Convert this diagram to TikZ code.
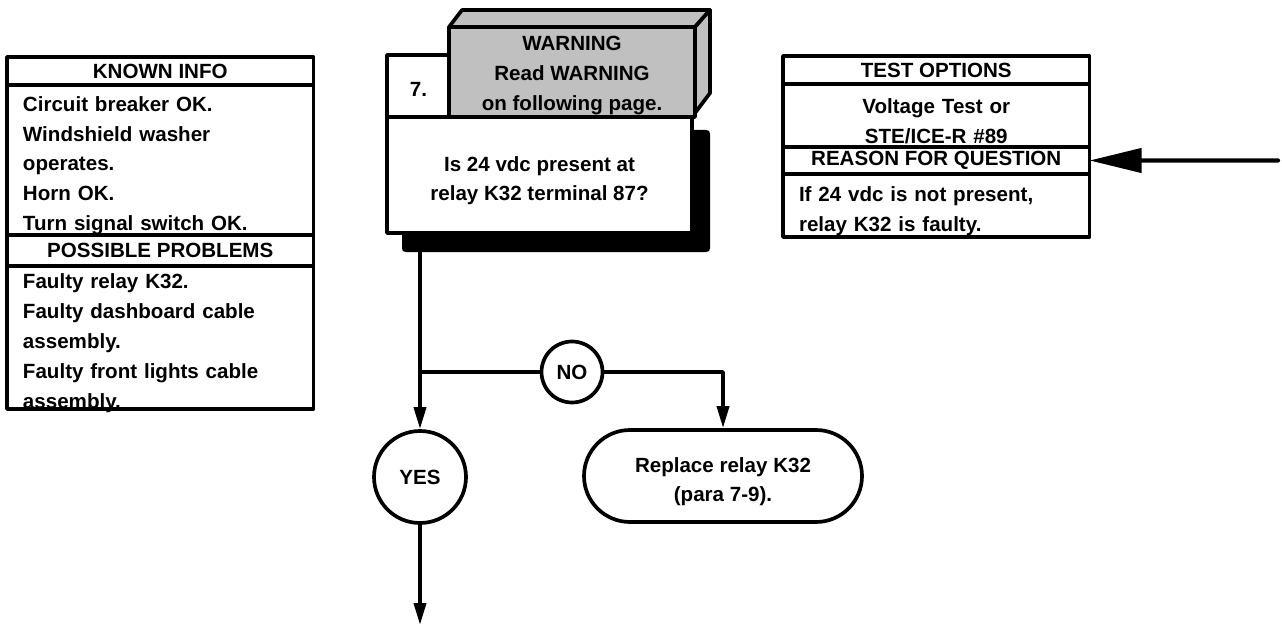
\documentclass[tikz,border=0pt]{standalone}
\usepackage{fontspec}
\setmainfont{Liberation Sans}
\usetikzlibrary{arrows.meta,positioning,shapes.misc}
\definecolor{WarnGray}{HTML}{C0C0C0}
\newcommand{\padtop}{\rule{0pt}{15pt}}
\newcommand{\padend}{\par\kern-6.5pt}

\tikzset{
  chart/.style={line width=2.1pt,draw=black},
  hdrbox/.style={chart,rectangle,outer sep=0pt,inner sep=0pt,minimum width=6.13cm,minimum height=#1,align=center},
  listbox/.style={chart,rectangle,outer sep=0pt,inner xsep=0.32cm,inner ysep=0pt,text width=5.49cm,minimum height=#1,align=left},
  midbox/.style={chart,rectangle,outer sep=0pt,inner sep=0pt,text width=6.13cm,minimum height=#1,align=center},
  ring/.style={chart,circle,fill=white,inner sep=0pt,minimum size=#1},
  flow/.style={line width=2.1pt,-{Triangle[length=4.4mm,width=2.4mm]}}
}

\begin{document}
\begin{tikzpicture}[line cap=round,line join=round,font=\bfseries\fontsize{11.7}{17}\selectfont]
  \useasboundingbox (0,0) rectangle (25.64,12.52);
  % left column
  \node[hdrbox=0.56cm,anchor=north west] (known) at (0.14,11.38) {KNOWN INFO};
  \node[listbox=3.0cm,below=0pt of known] (knownlist) {Circuit breaker OK.\\Windshield washer\\operates.\\Horn OK.\\Turn signal switch OK.\padend};
  \node[hdrbox=0.62cm,below=0pt of knownlist] (probs) {POSSIBLE PROBLEMS};
  \node[listbox=2.86cm,below=0pt of probs] (probslist) {Faulty relay K32.\\Faulty dashboard cable\\assembly.\\Faulty front lights cable\\assembly.\padend};
  % right column
  \node[hdrbox=0.56cm,anchor=north west] (tests) at (15.66,11.40) {TEST OPTIONS};
  \node[midbox=1.26cm,below=0pt of tests] (testlist) {Voltage Test or\\STE/ICE-R \#89\padend};
  \node[hdrbox=0.54cm,below=0pt of testlist] (reason) {REASON FOR QUESTION};
  \node[listbox=1.26cm,below=0pt of reason] (reasonlist) {If 24 vdc is not present,\\relay K32 is faulty.\padend};
  % question box with warning block
  \fill[rounded corners=2pt] (8.04,9.92) rectangle (14.20,7.48);
  \node[chart,fill=white,minimum width=6.10cm,minimum height=2.32cm,inner sep=0pt,align=center] (quest) at (10.79,9.02) {\padtop Is 24 vdc present at\\relay K32 terminal 87?};
  \node[chart,fill=white,minimum width=1.26cm,minimum height=1.24cm,inner sep=0pt] (step7) at (8.37,10.80) {\rule{0pt}{12pt}7.};
  \filldraw[chart,fill=WarnGray] (8.98,11.98) -- (9.24,12.32) -- (14.20,12.32) -- (13.90,11.98) -- cycle;
  \filldraw[chart,fill=WarnGray] (13.90,11.98) -- (14.20,12.32) -- (14.20,10.66) -- (13.90,10.26) -- cycle;
  \node[chart,fill=WarnGray,minimum width=4.92cm,minimum height=1.80cm,inner sep=0pt,align=center] (warn) at (11.44,11.08) {\rule{0pt}{12pt}WARNING\\Read WARNING\\on following page.};
  % decision
  \coordinate (qout) at (8.40,7.48);
  \coordinate (split) at (8.40,5.08);
  \node[ring=1.22cm] (no) at (11.44,5.08) {NO};
  \node[ring=1.84cm] (yes) at (8.40,2.98) {YES};
  \node[chart,rounded rectangle,minimum width=5.56cm,minimum height=1.84cm,inner sep=0pt,align=center] (fix) at (14.46,3.00) {\padtop Replace relay K32\\(para 7-9).};
  \coordinate (nextstep) at (8.40,0.02);
  \coordinate (pointer) at (25.56,9.31);
  \draw[line width=2.1pt] (qout) -- (split);
  \draw[flow] (split) -- (yes);
  \draw[line width=2.1pt] (split) -- (no);
  \draw[flow] (no) -| (fix);
  \draw[flow] (yes) -- (nextstep);
  \draw[line width=2.4pt,-{Triangle[length=10.4mm,width=4.8mm]}] (pointer) -- (reason.east);
\end{tikzpicture}
\end{document}
